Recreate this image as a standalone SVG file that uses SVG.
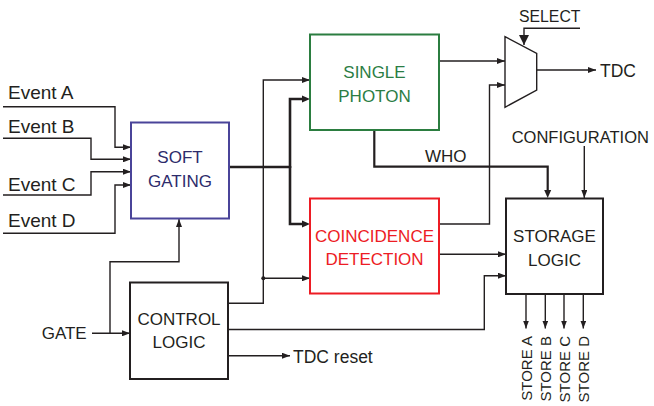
<svg xmlns="http://www.w3.org/2000/svg" width="654" height="406" viewBox="0 0 654 406">
<defs>
<style>
text{font-family:"Liberation Sans",Arial,sans-serif;font-size:17px;fill:#231f20}
.box{fill:#fff;stroke-width:2}
.c{stroke:#231f20;stroke-width:1.4;fill:none}
.t{stroke:#231f20;stroke-width:2.6;fill:none}
.m{text-anchor:middle}
.ev{font-size:19px}
.st{font-size:15px;text-anchor:end}
</style>
<marker id="a" viewBox="0 0 8 6" refX="8" refY="3" markerWidth="8" markerHeight="6" markerUnits="userSpaceOnUse" orient="auto">
<path d="M0,0 L8,3 L0,6 z" fill="#231f20"/>
</marker>
<marker id="b" viewBox="0 0 10 10" refX="10" refY="5" markerWidth="11" markerHeight="10" markerUnits="userSpaceOnUse" orient="auto">
<path d="M0,0 L10,5 L0,10 z" fill="#231f20"/>
</marker>
</defs>
<rect width="654" height="406" fill="#fff"/>
<g id="connectors">
<path class="c" d="M3,106.7 H115 V147.3 H131" marker-end="url(#a)"/>
<path class="c" d="M3,138.3 H91 V159.3 H131" marker-end="url(#a)"/>
<path class="c" d="M3,195 H91 V171.7 H131" marker-end="url(#a)"/>
<path class="c" d="M3,233.3 H115 V185 H131" marker-end="url(#a)"/>
<path class="t" d="M229,167 H290"/>
<path class="t" d="M290,168 V99 H304"/>
<path d="M302,95.5 L310,99 L302,102.5 z" fill="#231f20"/>
<path class="t" d="M290,166 V224 H304"/>
<path d="M302,220.5 L310,224 L302,227.5 z" fill="#231f20"/>
<path class="c" d="M228,303.3 H263.3 V80 H310" marker-end="url(#a)"/>
<path class="c" d="M263.3,278.3 H310" marker-end="url(#a)"/>
<circle cx="263.3" cy="278.3" r="2" fill="#231f20"/>
<path class="c" d="M92,333.3 H130" marker-end="url(#a)"/>
<path class="c" d="M110,333.3 V261.7 H179 V219" marker-end="url(#a)"/>
<path class="c" d="M228,329.5 H484.3 V275.7 H506" marker-end="url(#a)"/>
<path class="c" d="M228,355.7 H290" marker-end="url(#a)"/>
<path class="c" d="M439,61 H505" marker-end="url(#a)"/>
<path class="c" d="M439,224 H489.5 V85 H505" marker-end="url(#a)"/>
<path class="c" d="M439,254.3 H506" marker-end="url(#a)"/>
<path class="t" d="M374.3,130 V166.7 H547.7 V191" style="stroke-width:2.2"/>
<path d="M544.2,190 L547.7,198 L551.2,190 z" fill="#231f20"/>
<path class="c" d="M584.3,146 V198" marker-end="url(#a)"/>
<path class="c" d="M580,28.3 H524 V45" marker-end="url(#b)"/>
<path class="c" d="M537,70 H596" marker-end="url(#a)"/>
<path class="c" d="M526,294 V328.5" marker-end="url(#a)"/>
<path class="c" d="M545.3,294 V328.5" marker-end="url(#a)"/>
<path class="c" d="M564,294 V328.5" marker-end="url(#a)"/>
<path class="c" d="M583.3,294 V328.5" marker-end="url(#a)"/>
</g>
<g id="soft-gating">
<rect class="box" x="131" y="122.5" width="98" height="96" stroke="#4a4499"/>
<text class="m" x="180" y="163.3" style="fill:#2d2b6b">SOFT</text>
<text class="m" x="180" y="186.7" style="fill:#2d2b6b">GATING</text>
</g>
<g id="single-photon">
<rect class="box" x="310" y="34.5" width="129" height="95.5" stroke="#2b7d40"/>
<text class="m" x="374.5" y="78.3" style="fill:#2b7d44">SINGLE</text>
<text class="m" x="374.5" y="101.7" style="fill:#2b7d44">PHOTON</text>
</g>
<g id="coincidence-detection">
<rect class="box" x="310" y="198.5" width="129" height="95" stroke="#ed1c24"/>
<text class="m" x="374.5" y="241.7" style="fill:#ed1c24">COINCIDENCE</text>
<text class="m" x="374.5" y="264.5" style="fill:#ed1c24">DETECTION</text>
</g>
<g id="storage-logic">
<rect class="box" x="506" y="198.5" width="97" height="95.5" stroke="#231f20"/>
<text class="m" x="554.5" y="241.7">STORAGE</text>
<text class="m" x="554.5" y="265.7">LOGIC</text>
</g>
<g id="control-logic">
<rect class="box" x="130" y="282.5" width="98" height="96.5" stroke="#231f20"/>
<text class="m" x="179" y="325">CONTROL</text>
<text class="m" x="179" y="348.3">LOGIC</text>
</g>
<g id="mux">
<polygon points="505,36.7 536.7,53.3 536.7,90 505,107.3" fill="#fff" stroke="#231f20" stroke-width="1.4"/>
</g>
<g id="labels">
<text class="ev" x="8" y="99">Event A</text>
<text class="ev" x="8" y="133">Event B</text>
<text class="ev" x="8" y="190.7">Event C</text>
<text class="ev" x="8" y="227">Event D</text>
<text x="41.7" y="339.3">GATE</text>
<text x="293" y="362.7" style="font-size:17.5px">TDC reset</text>
<text x="600" y="77.3" style="font-size:17.5px">TDC</text>
<text x="519" y="21.7" style="font-size:15.8px">SELECT</text>
<text x="425" y="161.7">WHO</text>
<text x="511.7" y="142.7" style="font-size:16.5px">CONFIGURATION</text>
<text class="st" transform="translate(531.5,336) rotate(-90)">STORE A</text>
<text class="st" transform="translate(550.8,336) rotate(-90)">STORE B</text>
<text class="st" transform="translate(569.5,336) rotate(-90)">STORE C</text>
<text class="st" transform="translate(588.8,336) rotate(-90)">STORE D</text>
</g>
</svg>
